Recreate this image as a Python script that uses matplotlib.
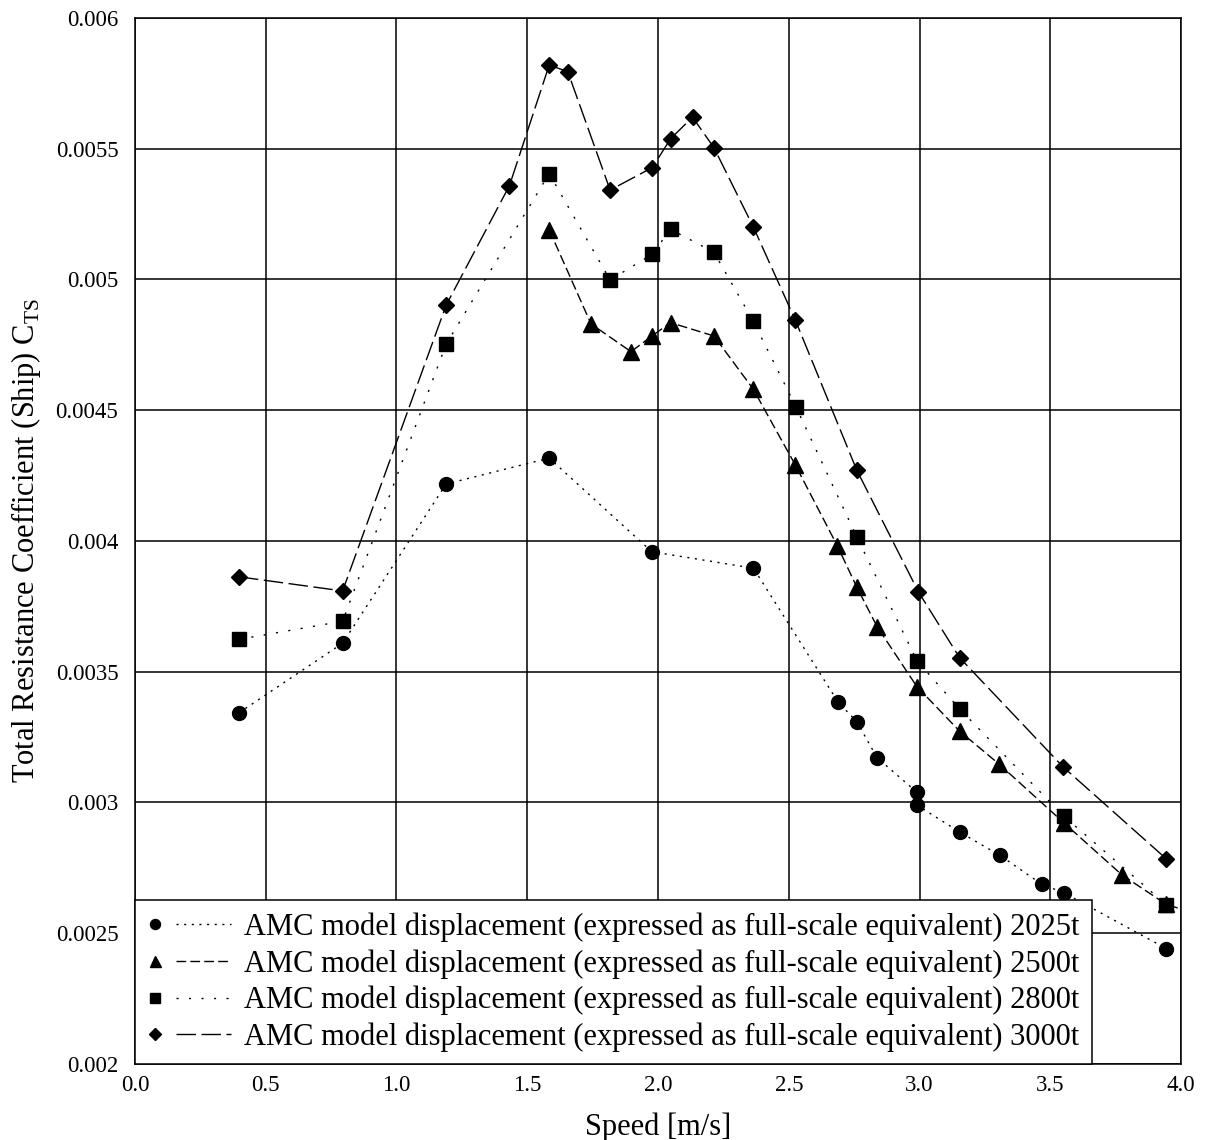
import matplotlib
matplotlib.use('Agg')
import matplotlib.pyplot as plt
from matplotlib.legend_handler import HandlerBase
from matplotlib.lines import Line2D
from matplotlib.ticker import FuncFormatter, MultipleLocator

plt.rcParams['font.family'] = ['Liberation Serif', 'DejaVu Serif']

LABEL_PREFIX = 'AMC model displacement (expressed as full-scale equivalent) '

speed_2025 = [0.398, 0.794, 1.19, 1.584, 1.976, 2.365, 2.688, 2.76, 2.838,
              2.99, 2.99, 3.155, 3.307, 3.468, 3.551, 3.944]
cts_2025 = [0.003343, 0.003609, 0.004218, 0.004317, 0.003959, 0.003896,
            0.003385, 0.003309, 0.003171, 0.003039, 0.00299, 0.002886,
            0.002798, 0.002687, 0.002655, 0.002441]

speed_2500 = [1.584, 1.744, 1.897, 1.978, 2.048, 2.214, 2.364, 2.525, 2.686,
              2.76, 2.838, 2.99, 3.153, 3.305, 3.551, 3.774, 3.944, 4.2]
cts_2500 = [0.00519, 0.00483, 0.004724, 0.004785, 0.004835, 0.004784,
            0.004581, 0.004291, 0.003981, 0.003824, 0.003672, 0.003443,
            0.003273, 0.003146, 0.002923, 0.002723, 0.00261, 0.00253]

speed_2800 = [0.398, 0.794, 1.19, 1.584, 1.817, 1.978, 2.048, 2.214, 2.364,
              2.527, 2.76, 2.99, 3.155, 3.551, 3.944]
cts_2800 = [0.003624, 0.003693, 0.004753, 0.005405, 0.004998, 0.005097,
            0.005192, 0.005104, 0.004841, 0.004514, 0.004016, 0.003542,
            0.003356, 0.002948, 0.002609]

speed_3000 = [0.398, 0.794, 1.19, 1.432, 1.584, 1.655, 1.817, 1.978, 2.048,
              2.132, 2.214, 2.364, 2.525, 2.76, 2.996, 3.153, 3.55, 3.944]
cts_3000 = [0.003863, 0.003809, 0.004902, 0.005359, 0.00582, 0.005795,
            0.005342, 0.005428, 0.005538, 0.005621, 0.005504, 0.005202,
            0.004845, 0.004271, 0.003805, 0.003554, 0.003135, 0.002784]


class MarkerThenLine(HandlerBase):
  """Legend entry with the marker on the left and a line sample after it."""

  def create_artists(self, legend, orig_handle, xdescent, ydescent, width,
                     height, fontsize, trans):
    y = height / 2 - ydescent
    x0 = -xdescent
    marker = Line2D(
        [x0 + 0.09 * width], [y], linestyle='none',
        marker=orig_handle.get_marker(),
        markersize=orig_handle.get_markersize() * 0.72,
        color='black')
    line = Line2D(
        [x0 + 0.34 * width, x0 + width], [y, y],
        linestyle=orig_handle.get_linestyle(),
        linewidth=orig_handle.get_linewidth(), color='black')
    line.set_dashes(orig_handle._unscaled_dash_pattern[1])
    for artist in (marker, line):
      artist.set_transform(trans)
    return [marker, line]


fig = plt.figure(figsize=(12.07, 11.4), dpi=100)
ax = fig.add_axes([0.1118, 0.0667, 0.8667, 0.9175])

series = [
    (speed_2025, cts_2025, 'o', 10, (0, (1.5, 4.0)), '2025t'),
    (speed_2500, cts_2500, '^', 11, (0, (7, 3)), '2500t'),
    (speed_2800, cts_2800, 's', 9.5, (0, (1.5, 7.5)), '2800t'),
    (speed_3000, cts_3000, 'D', 8.5, (0, (14, 4)), '3000t'),
]
handles = []
for speed, cts, marker, size, dashes, tag in series:
  (line,) = ax.plot(speed, cts, color='black', linewidth=1.0,
                    linestyle=dashes, marker=marker, markersize=size,
                    label=LABEL_PREFIX + tag, zorder=3)
  handles.append(line)

ax.set_xlim(0, 4.0)
ax.set_ylim(0.002, 0.006)
ax.xaxis.set_major_locator(MultipleLocator(0.5))
ax.yaxis.set_major_locator(MultipleLocator(0.0005))
ax.xaxis.set_major_formatter(FuncFormatter(lambda v, _: f'{v:.1f}'))
ax.yaxis.set_major_formatter(FuncFormatter(lambda v, _: f'{v:g}'))
ax.tick_params(length=0, labelsize=16.5)
ax.tick_params(axis='x', pad=8)
ax.tick_params(axis='y', pad=12)
ax.grid(True, color='black', linewidth=1.1)
ax.set_axisbelow(True)
for spine in ax.spines.values():
  spine.set_linewidth(1.1)

ax.set_xlabel('Speed [m/s]', fontsize=22, labelpad=12)
ax.set_ylabel(r'Total Resistance Coefficient (Ship) C$_{\mathregular{TS}}$',
              fontsize=22, labelpad=9)

legend = ax.legend(
    handles=handles, loc='lower left', borderaxespad=0, fontsize=22,
    handler_map={Line2D: MarkerThenLine()}, handlelength=2.75,
    handletextpad=0.42, labelspacing=0.23, borderpad=0.4,
    fancybox=False, framealpha=1, edgecolor='black')
legend.get_frame().set_linewidth(1.1)
legend.set_zorder(5)

fig.savefig('out.png', dpi=100)
